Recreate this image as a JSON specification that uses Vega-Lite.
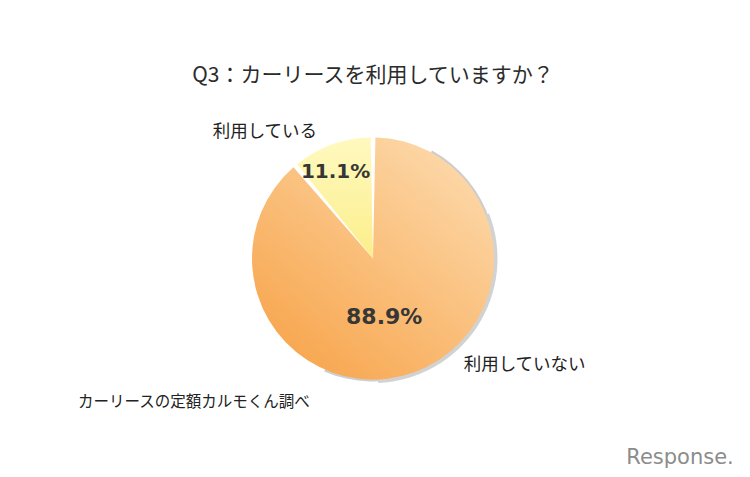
{
  "$schema": "https://vega.github.io/schema/vega-lite/v6.json",
  "autosize": {"type": "none"},
  "width": 746,
  "height": 357,
  "padding": {"top": 80, "left": 0, "right": 4, "bottom": 40},
  "background": "#ffffff",
  "view": {"stroke": null},
  "title": {
    "text": "Q3：カーリースを利用していますか？",
    "frame": "group",
    "anchor": "middle",
    "offset": -6,
    "font": "Noto Sans CJK JP",
    "fontSize": 21,
    "fontWeight": "normal",
    "color": "#2b2b2b"
  },
  "datasets": {
    "answers": [
      {"label": "利用していない", "value": 0.889},
      {"label": "利用している", "value": 0.111}
    ]
  },
  "layer": [
    {
      "data": {"values": [{"shadow": 1}]},
      "mark": {"type": "arc", "theta": 0.5, "theta2": 3.55, "radius": 123, "color": "#cdcdcd"},
      "encoding": {}
    },
    {
      "data": {"values": [{"shadow": 2}]},
      "mark": {"type": "arc", "theta": 1.2, "theta2": 3.1, "radius": 124.5, "color": "#d2d2d2"},
      "encoding": {}
    },
    {
      "data": {"name": "answers"},
      "mark": {"type": "arc", "radius": 121, "padAngle": 0.04},
      "encoding": {
        "theta": {"field": "value", "type": "quantitative", "stack": true},
        "order": {"field": "value", "sort": "descending"},
        "color": {
          "condition": {
            "test": "datum.label === '利用している'",
            "value": {"gradient": "linear", "x1": 0.5, "y1": 0, "x2": 0.5, "y2": 1,
              "stops": [{"offset": 0, "color": "#fff9c0"}, {"offset": 1, "color": "#fcee8a"}]}
          },
          "value": {"gradient": "linear", "x1": 0.9, "y1": 0, "x2": 0.1, "y2": 1,
            "stops": [{"offset": 0, "color": "#fddcb0"}, {"offset": 1, "color": "#f7a247"}]}
        }
      }
    },
    {
      "data": {"name": "answers"},
      "mark": {"type": "text", "radius": 92, "dx": -6, "font": "DejaVu Sans", "fontSize": 20, "fontWeight": "bold", "color": "#363636", "baseline": "middle"},
      "encoding": {
        "theta": {"field": "value", "type": "quantitative", "stack": true},
        "order": {"field": "value", "sort": "descending"},
        "text": {"condition": {"test": "datum.label === '利用している'", "field": "value", "format": ".1%"}, "value": ""}
      }
    },
    {
      "data": {"name": "answers"},
      "mark": {"type": "text", "radius": 62, "dx": -10, "font": "DejaVu Sans", "fontSize": 22, "fontWeight": "bold", "color": "#363636", "baseline": "middle"},
      "encoding": {
        "theta": {"field": "value", "type": "quantitative", "stack": true},
        "order": {"field": "value", "sort": "descending"},
        "text": {"condition": {"test": "datum.label === '利用していない'", "field": "value", "format": ".1%"}, "value": ""}
      }
    },
    {
      "data": {"name": "answers"},
      "mark": {"type": "text", "radius": 135, "dx": -62, "font": "Noto Sans CJK JP", "fontSize": 17.5, "color": "#222222", "baseline": "middle"},
      "encoding": {
        "theta": {"field": "value", "type": "quantitative", "stack": true},
        "order": {"field": "value", "sort": "descending"},
        "text": {"condition": {"test": "datum.label === '利用している'", "field": "label"}, "value": ""}
      }
    },
    {
      "data": {"name": "answers"},
      "mark": {"type": "text", "radius": 113, "dx": 113, "font": "Noto Sans CJK JP", "fontSize": 17.5, "color": "#222222", "baseline": "middle"},
      "encoding": {
        "theta": {"field": "value", "type": "quantitative", "stack": true},
        "order": {"field": "value", "sort": "descending"},
        "text": {"condition": {"test": "datum.label === '利用していない'", "field": "label"}, "value": ""}
      }
    },
    {
      "data": {"values": [{"note": "カーリースの定額カルモくん調べ"}]},
      "mark": {"type": "text", "align": "left", "baseline": "middle", "dx": -295, "dy": 143.5, "font": "Noto Sans CJK JP", "fontSize": 15.5, "color": "#222222"},
      "encoding": {"text": {"field": "note"}}
    },
    {
      "data": {"values": [{"mark": "Response."}]},
      "mark": {"type": "text", "align": "center", "baseline": "middle", "dx": 307, "dy": 199, "font": "DejaVu Sans", "fontSize": 21, "color": "#8c8c8c"},
      "encoding": {"text": {"field": "mark"}}
    }
  ]
}
